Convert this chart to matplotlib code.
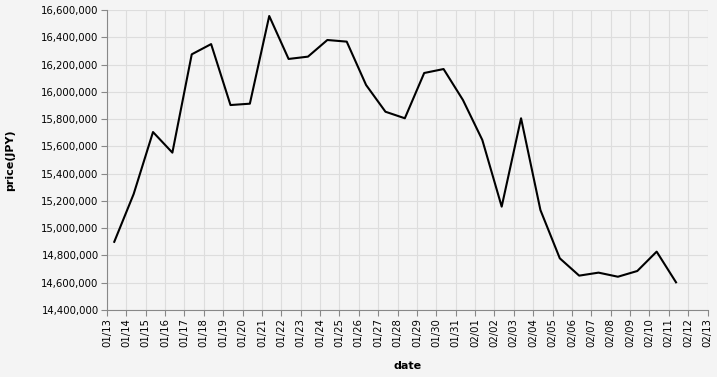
import numpy as np
import pandas as pd
import matplotlib
matplotlib.use('Agg')
import matplotlib.pyplot as plt
import matplotlib.dates as mdates
from matplotlib.ticker import FuncFormatter

# precio diario (JPY), un punto por día a las 09:00
dates = pd.date_range('2025-01-13 09:00', '2025-02-11 09:00', freq='D')
price = [14900000, 15250000, 15705000, 15554000, 16275000, 16350000, 15903000,
         15913000, 16556000, 16241000, 16258000, 16380000, 16368000, 16050000,
         15854000, 15806000, 16138000, 16167000, 15940000, 15647000, 15158000,
         15806000, 15133000, 14779000, 14652000, 14674000, 14644000, 14686000,
         14828000, 14603000]

bg = '#f4f4f4'
fig = plt.figure(figsize=(7.17, 3.77), dpi=100, facecolor=bg)
ax = fig.add_axes([107 / 717, 67 / 377, 600.5 / 717, 300 / 377])
ax.set_facecolor(bg)

ax.plot(dates, price, color='black', linewidth=1.5, zorder=3)

ax.set_xlim(pd.Timestamp('2025-01-13'), pd.Timestamp('2025-02-13'))
ax.set_ylim(14400000, 16600000)
ax.xaxis.set_major_locator(mdates.DayLocator())
ax.xaxis.set_major_formatter(mdates.DateFormatter('%m/%d'))
ax.set_yticks(np.arange(14400000, 16600001, 200000))
ax.yaxis.set_major_formatter(FuncFormatter(lambda v, p: f'{int(v):,}'))

ax.grid(True, color='#dddddd', linewidth=0.8, zorder=0)
ax.set_axisbelow(True)
for s in ['top', 'right']:
    ax.spines[s].set_visible(False)
for s in ['left', 'bottom']:
    ax.spines[s].set_color('#888888')
    ax.spines[s].set_linewidth(0.8)
ax.tick_params(axis='both', colors='#888888', length=4, width=0.8,
               labelcolor='black', labelsize=7.3, pad=2)
plt.setp(ax.get_xticklabels(), rotation=90)

ax.set_xlabel('date', fontsize=8, fontweight='bold', labelpad=10)
ax.set_ylabel('price(JPY)', fontsize=8, fontweight='bold', labelpad=19)

fig.savefig('out.png', dpi=100, facecolor=bg)
